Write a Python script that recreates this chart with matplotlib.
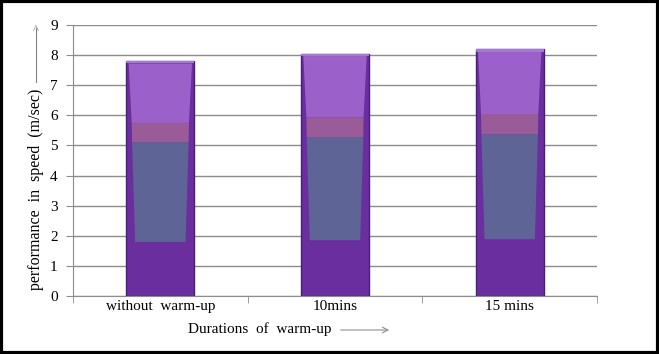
from matplotlib import pyplot as plt
from matplotlib.patches import Polygon, Rectangle
import numpy as np

plt.rcParams['font.family'] = ['Liberation Serif', 'DejaVu Serif']

categories = ['without  warm-up', '10mins', '15 mins']
speed = [7.8, 8.05, 8.2]

fig = plt.figure(figsize=(6.59, 3.54), dpi=100)
ax = fig.add_axes([73 / 659, 1 - 296 / 354, 524 / 659, 271 / 354])

x_pos = np.arange(len(categories))
width = 0.39

ax.bar(x_pos, speed, width=width, color='#6a2e9e', edgecolor='#4b1f78', linewidth=1.0, zorder=2)


def trap(x, y0, y1, w0, w1, color):
    # bevel-ish shading inside one bar
    pts = [(x - w0 / 2, y0), (x + w0 / 2, y0), (x + w1 / 2, y1), (x - w1 / 2, y1)]
    ax.add_patch(Polygon(pts, closed=True, facecolor=color, edgecolor='none', zorder=3))


for x, v in zip(x_pos, speed):
    trap(x, 0.23 * v, 0.655 * v, width * 0.74, width * 0.83, '#5f6496')
    trap(x, 0.655 * v, 0.737 * v, width * 0.83, width * 0.84, '#9a5c98')
    trap(x, 0.737 * v, 0.99 * v, width * 0.84, width * 0.93, '#9b60c9')
    ax.add_patch(Rectangle((x - width / 2, 0.99 * v), width, 0.01 * v,
                           facecolor='#a27ad4', edgecolor='none', zorder=3))

ax.set_ylim(0, 9)
ax.set_xlim(-0.5, 2.5)
ax.set_yticks(range(10))
ax.yaxis.grid(True, color='#8c8c8c', linewidth=1.0, zorder=0)
ax.set_axisbelow(True)

ax.set_xticks(x_pos)
ax.set_xticklabels(categories, fontsize=11)
ax.tick_params(axis='x', length=0, pad=3)
ax.set_xticks([-0.5, 0.5, 1.5, 2.5], minor=True)
ax.tick_params(axis='x', which='minor', length=5, color='#8c8c8c', direction='out')
ax.tick_params(axis='y', length=5, color='#8c8c8c', labelsize=11, pad=6)

for s in ['top', 'right']:
    ax.spines[s].set_visible(False)
ax.spines['left'].set_color('#8c8c8c')
ax.spines['bottom'].set_color('#8c8c8c')

# axis titles with the little arrows
fig.text(36 / 659, 1 - 189 / 354, 'performance  in  speed  (m/sec)', rotation=90,
         ha='center', va='center', fontsize=11.5)
fig.add_artist(plt.Line2D([36 / 659, 36 / 659], [1 - 82 / 354, 1 - 28 / 354],
                          color='#808080', linewidth=0.8))
fig.text(36 / 659, 1 - 30 / 354, '^', ha='center', va='center', fontsize=9, color='#808080')

fig.text(332 / 659, 1 - 329 / 354, 'Durations  of  warm-up', ha='right', va='center', fontsize=11)
ax.annotate('', xy=(392 / 659, 1 - 330 / 354), xytext=(338 / 659, 1 - 330 / 354),
            xycoords='figure fraction',
            arrowprops=dict(arrowstyle='->', color='#909090', lw=0.8))

fig.add_artist(Rectangle((0.002, 0.003), 0.996, 0.994, transform=fig.transFigure,
                         fill=False, edgecolor='black', linewidth=3))

fig.savefig('out.png', dpi=100)
